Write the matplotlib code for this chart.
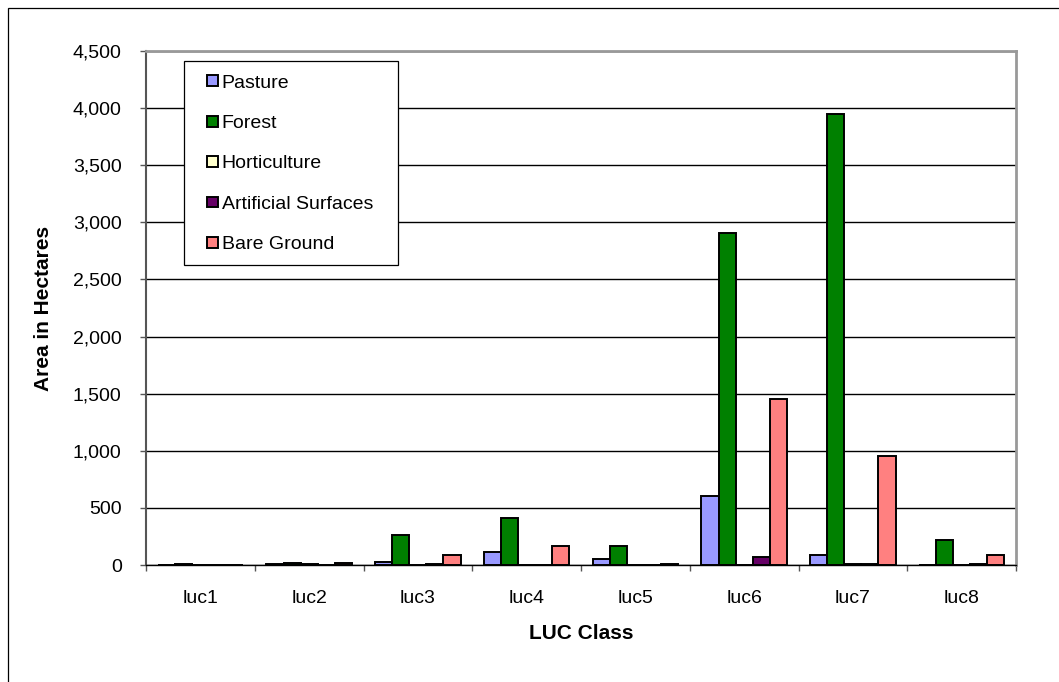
import numpy as np
import matplotlib.pyplot as plt
from matplotlib.ticker import FuncFormatter, FixedLocator
from matplotlib.patches import Rectangle
from matplotlib.container import BarContainer
from matplotlib.legend_handler import HandlerPatch

plt.rcParams['font.family'] = ['Liberation Sans', 'DejaVu Sans']

classes = ['luc1', 'luc2', 'luc3', 'luc4', 'luc5', 'luc6', 'luc7', 'luc8']
pasture = [0, 10, 25, 115, 55, 600, 90, 0]
forest = [5, 20, 265, 415, 165, 2910, 3950, 215]
horticulture = [0, 5, 0, 0, 0, 0, 5, 0]
artificial = [0, 0, 5, 0, 0, 70, 5, 5]
bare_ground = [0, 20, 85, 170, 5, 1450, 950, 90]

series = [('Pasture', pasture, '#9999FF'),
          ('Forest', forest, '#008000'),
          ('Horticulture', horticulture, '#FFFFCC'),
          ('Artificial Surfaces', artificial, '#660066'),
          ('Bare Ground', bare_ground, '#FF8080')]

W, H = 1059, 682
fig = plt.figure(figsize=(W / 100, H / 100), dpi=100)
ax = fig.add_axes([146 / W, 1 - 565 / H, (1016 - 146) / W, (565 - 51) / H])

# outer chart border (only left/top visible, rest cropped)
fig.patches.append(Rectangle((8 / W, -0.1), 1.2, 1 - 8 / H + 0.1,
                             transform=fig.transFigure, fill=False,
                             edgecolor='black', linewidth=0.9))

x = np.arange(len(classes))
w = 0.157
for i, (name, vals, col) in enumerate(series):
    ax.bar(x + (i - 2) * w, vals, w, color=col, edgecolor='black',
           linewidth=1.4, label=name, zorder=3)

ax.set_xlim(-0.5, len(classes) - 0.5)
ax.set_ylim(0, 4500)
ax.set_yticks(np.arange(0, 4501, 500))
ax.yaxis.set_major_formatter(FuncFormatter(lambda v, p: f'{int(v):,}'))
ax.grid(axis='y', color='black', linewidth=1.0, zorder=0)

ax.set_xticks(x)
ax.set_xticklabels(classes)
ax.xaxis.set_minor_locator(FixedLocator(np.arange(-0.5, len(classes), 1.0)))
ax.tick_params(axis='x', which='major', length=0, pad=18, labelsize=14)
ax.tick_params(axis='x', which='minor', length=4.5, width=1, color='#555555', direction='out')
ax.tick_params(axis='y', length=4.5, width=1, color='#555555', labelsize=14, pad=13)

for s in ['top', 'right']:
    ax.spines[s].set_color('#999999')
    ax.spines[s].set_linewidth(2)
ax.spines['left'].set_color('#555555')
ax.spines['left'].set_linewidth(1.5)
ax.spines['bottom'].set_color('black')
ax.spines['bottom'].set_linewidth(1.0)

ax.set_xlabel('LUC Class', fontsize=15, fontweight='bold', labelpad=12)
ax.set_ylabel('Area in Hectares', fontsize=15, fontweight='bold', labelpad=14)


def small_square(legend, orig_handle, xdescent, ydescent, width, height, fontsize=14, **kw):
    s = 0.55 * fontsize
    return Rectangle((-xdescent + width - s, -ydescent + (height - s) / 2), s, s)


def copy_bar_style(handle, orig):
    handle.update_from(orig.patches[0])


# legend frame drawn by hand so its padding matches
aw, ah = 1016 - 146, 565 - 51
ax.add_patch(Rectangle(((184 - 146) / aw, (565 - 265) / ah), (398 - 184) / aw, (265 - 61) / ah,
                       transform=ax.transAxes, facecolor='white', edgecolor='black',
                       linewidth=0.9, zorder=4))
leg = ax.legend(loc='upper left', bbox_to_anchor=((194.5 - 146) / aw, (565 - 74) / ah),
                frameon=False, fontsize=14, handlelength=1.2, handleheight=0.7,
                handletextpad=0.2, labelspacing=1.17, borderpad=0, borderaxespad=0,
                handler_map={BarContainer: HandlerPatch(patch_func=small_square,
                                                        update_func=copy_bar_style)})
leg.set_zorder(5)

fig.savefig('out.png', dpi=100)
